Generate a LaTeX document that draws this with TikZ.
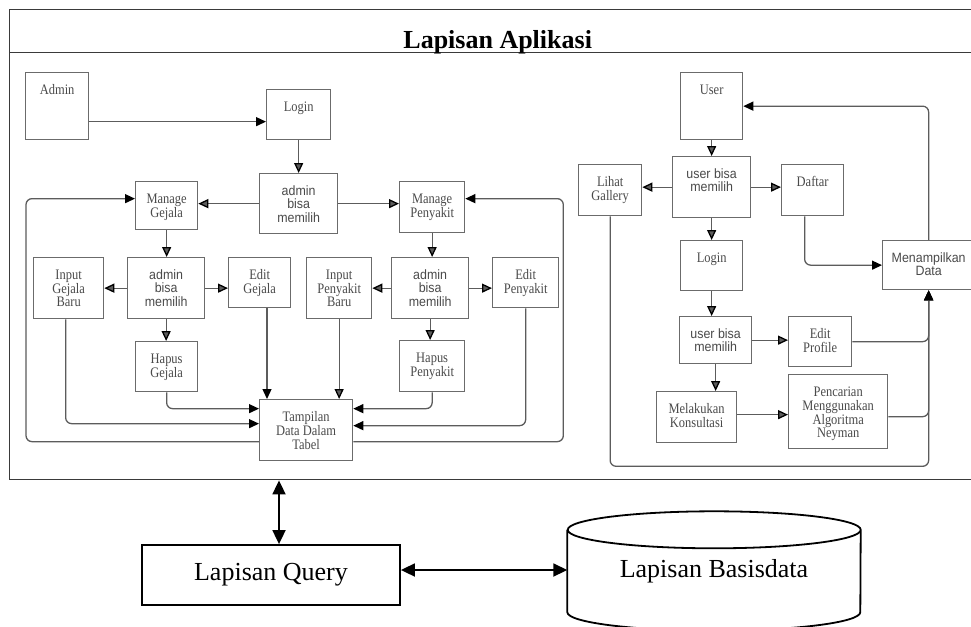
\documentclass[tikz,border=0pt]{standalone}
\usepackage{fontspec}
\setmainfont{Liberation Serif}
\setsansfont{Liberation Sans}
\newfontfamily\kotakserif[FakeStretch=0.86]{Liberation Serif}
\newfontfamily\kotaksans[FakeStretch=0.92]{Liberation Sans}
\usetikzlibrary{arrows.meta}

\definecolor{bingkaic}{HTML}{3A3A3A}
\definecolor{kotakc}{HTML}{6B6B6B}
\definecolor{garisc}{HTML}{5C5C5C}
\definecolor{teksc}{HTML}{4A4A4A}

\newcommand{\baris}[1]{\begin{tabular}[t]{@{}c@{}}#1\end{tabular}}

\begin{document}
\begin{tikzpicture}[x=1pt, y=-1pt,
    bingkai/.style={draw=bingkaic, line width=1.4pt, anchor=north west, inner sep=0pt,
      minimum width=976pt, minimum height=470pt},
    box/.style={draw=kotakc, line width=1.3pt, fill=white, inner sep=0pt, anchor=north west,
      text height=21.5pt, text=teksc, font=\kotakserif\fontsize{14.5}{13.3}\selectfont},
    sbox/.style={box, font=\kotaksans\fontsize{13.5}{13.3}\selectfont},
    ukuran/.style 2 args={minimum width=#1pt, text depth=#2pt},
    panah/.style={color=garisc, line width=1.3pt, -{Triangle[length=10pt,width=9pt,color=black]}},
    siku/.style={panah, rounded corners=6pt},
    lapis/.style={draw=black, line width=1.8pt, fill=white, inner sep=0pt,
      font=\fontsize{26}{30}\selectfont},
    duaarah/.style={line width=1.8pt,
      arrows={Triangle[length=14pt,width=13pt]-Triangle[length=14pt,width=13pt]}}]

  \path[use as bounding box, fill=white] (0,0) rectangle (971,626);

  \node[bingkai] (app) at (9,9) {};
  \node[bingkai, minimum height=43pt, text height=39pt, text depth=4pt,
    font=\bfseries\fontsize{26}{30}\selectfont] (judul) at (9,9) {Lapisan Aplikasi};

  % bagian admin
  \node[box, ukuran={63}{45.5}]  (admin)  at (25,72)   {Admin};
  \node[box, ukuran={64}{28.5}]  (login)  at (266,89)  {Login};
  \node[sbox, ukuran={78}{38.5}] (pilihA) at (259,173) {\baris{admin\\bisa\\memilih}};
  \node[box, ukuran={62}{26.5}]  (mgG)    at (135,181) {\baris{Manage\\Gejala}};
  \node[box, ukuran={65}{29.5}]  (mgP)    at (399,181) {\baris{Manage\\Penyakit}};
  \node[box, ukuran={70}{39.5}]  (inG)    at (33,257)  {\baris{Input\\Gejala\\Baru}};
  \node[sbox, ukuran={77}{39.5}] (pilihG) at (127,257) {\baris{admin\\bisa\\memilih}};
  \node[box, ukuran={62}{28.5}]  (edG)    at (228,257) {\baris{Edit\\Gejala}};
  \node[box, ukuran={65}{39.5}]  (inP)    at (306,257) {\baris{Input\\Penyakit\\Baru}};
  \node[sbox, ukuran={77}{39.5}] (pilihP) at (391,257) {\baris{admin\\bisa\\memilih}};
  \node[box, ukuran={66}{28.5}]  (edP)    at (492,257) {\baris{Edit\\Penyakit}};
  \node[box, ukuran={62}{28.5}]  (hpG)    at (135,341) {\baris{Hapus\\Gejala}};
  \node[box, ukuran={65}{29.5}]  (hpP)    at (399,340) {\baris{Hapus\\Penyakit}};
  \node[box, ukuran={93}{39.5}]  (tabel)  at (259,399) {\baris{Tampilan\\Data Dalam\\Tabel}};

  % bagian user
  \node[box, ukuran={62}{45.5}]  (user)    at (680,72)  {User};
  \node[sbox, ukuran={78}{39.5}] (pilihU)  at (672,156) {\baris{user bisa\\memilih}};
  \node[box, ukuran={63}{29.5}]  (galeri)  at (578,164) {\baris{Lihat\\Gallery}};
  \node[box, ukuran={62}{29.5}]  (daftar)  at (781,164) {Daftar};
  \node[box, ukuran={62}{28.5}]  (loginU)  at (680,240) {Login};
  \node[sbox, ukuran={92}{27.5}] (tampil)  at (882,240) {\baris{Menampilkan\\Data}};
  \node[sbox, ukuran={72}{25.5}] (pilihU2) at (679,316) {\baris{user bisa\\memilih}};
  \node[box, ukuran={63}{28.5}]  (edProf)  at (788,316) {\baris{Edit\\Profile}};
  \node[box, ukuran={80}{29.5}]  (konsul)  at (656,391) {\baris{Melakukan\\Konsultasi}};
  \node[box, ukuran={99}{52.5}]  (cari)    at (788,374) {\baris{Pencarian\\Menggunakan\\Algoritma\\Neyman}};

  % lapisan bawah
  \node[lapis, minimum width=258pt, minimum height=60pt] (query) at (271,575) {Lapisan Query};
  \node[inner sep=0pt, minimum width=293pt, minimum height=82pt,
    font=\fontsize{26}{30}\selectfont] (db) at (714,571) {Lapisan Basisdata};
  \draw[line width=1.8pt] (db.north west) -- (db.south west)
    arc[start angle=180, end angle=360, x radius=146.5pt, y radius=18.5pt]
    -- (db.north east)
    arc[start angle=0, end angle=180, x radius=146.5pt, y radius=18.5pt]
    arc[start angle=180, end angle=360, x radius=146.5pt, y radius=18.5pt];

  \path[panah]
    (login) edge (pilihA)
    (pilihA.west) edge (pilihA.west -| mgG.east)
    (pilihA.east) edge (pilihA.east -| mgP.west)
    (mgG.south) edge (mgG.south |- pilihG.north)
    (mgP.south) edge (mgP.south |- pilihP.north)
    (pilihG.west) edge (pilihG.west -| inG.east)
    (pilihG.east) edge (pilihG.east -| edG.west)
    (pilihG.south) edge (pilihG.south |- hpG.north)
    (pilihP.west) edge (pilihP.west -| inP.east)
    (pilihP.east) edge (pilihP.east -| edP.west)
    (pilihP.south) edge (pilihP.south |- hpP.north)
    (inP.south) edge (inP.south |- tabel.north);

  \draw[panah] ([yshift=-15.5pt]admin.east) -- ([yshift=-15.5pt]admin.east -| login.west);
  \draw[panah] ([xshift=8pt]tabel.north west |- edG.south) -- ([xshift=8pt]tabel.north west);
  \draw[siku] (hpG.south) |- ([yshift=21.5pt]tabel.west);
  \draw[siku] ([xshift=-3pt]inG.south) |- ([yshift=6.5pt]tabel.west);
  \draw[siku] (hpP.south) |- ([yshift=21.5pt]tabel.east);
  \draw[siku] (edP.south) |- ([yshift=4.5pt]tabel.east);
  \draw[siku] ([yshift=-11.5pt]tabel.west) -- ++(-233,0) |- ([yshift=7pt]mgG.west);
  \draw[siku] ([yshift=-11.5pt]tabel.east) -- ++(210,0) |- ([yshift=8.5pt]mgP.east);

  \path[panah]
    (user) edge (pilihU)
    (pilihU) edge (loginU)
    (pilihU.west) edge (pilihU.west -| galeri.east)
    (pilihU.east) edge (pilihU.east -| daftar.west)
    (loginU.south) edge (loginU.south |- pilihU2.north)
    (pilihU2.east) edge (pilihU2.east -| edProf.west)
    (pilihU2.south) edge (pilihU2.south |- konsul.north)
    ([yshift=2.5pt]konsul.east) edge ([yshift=2.5pt]konsul.east -| cari.west);

  \draw[siku] (tampil.north) |- (user.east);
  \draw[siku] ([xshift=-8pt]daftar.south) |- (tampil.west);
  \draw[siku] (galeri.south) -- ++(0,250) -| (tampil.south);
  \draw[siku] (edProf.east) -| (tampil.south);
  \draw[siku] ([yshift=-5pt]cari.east) -| (tampil.south);

  \draw[duaarah] ([xshift=8pt]query.north) -- ([xshift=8pt]query.north |- app.south);
  \draw[duaarah] ([yshift=5pt]query.east) -- ([yshift=5pt]query.east -| db.west);
\end{tikzpicture}
\end{document}
